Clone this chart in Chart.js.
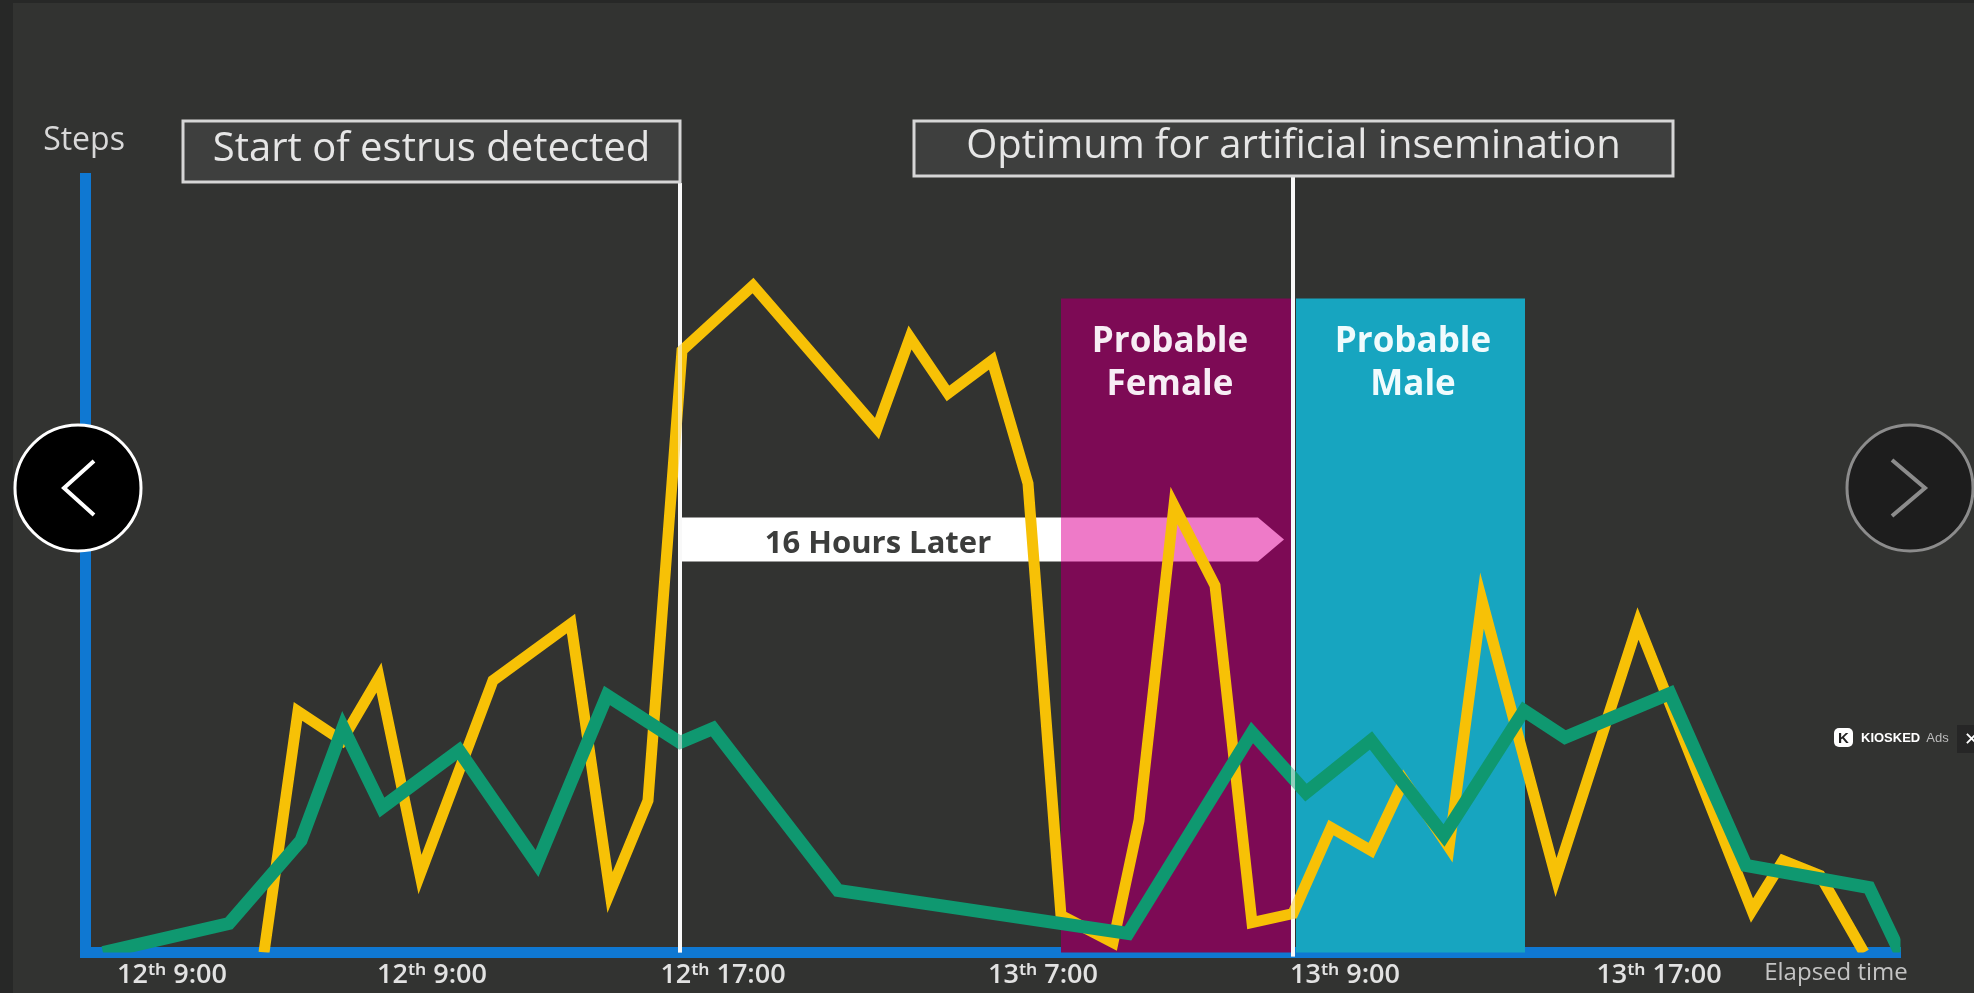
<!DOCTYPE html>
<html>
<head>
<meta charset="utf-8">
<title>Steps over elapsed time</title>
<script src="https://cdn.jsdelivr.net/npm/chart.js@4/dist/chart.umd.min.js"></script>
<style>
    html, body { margin: 0; padding: 0; background: #272827; overflow: hidden; }
    #fondo { position: absolute; left: 13px; top: 3px; right: 0; bottom: 0; background: #323331; }
    #grafico { position: absolute; left: 0; top: 0; }
    .nav { position: absolute; left: 0; top: 0; }
    #ads { position: absolute; left: 1861px; top: 730px; font: 700 13px "Liberation Sans", sans-serif; color: #fff; white-space: nowrap; }
    #ads span { font-weight: 400; color: #bbb; margin-left: 6px; }
    #adsLogo { position: absolute; left: 1834px; top: 728px; width: 19px; height: 19px; border-radius: 5px; background: #fff; color: #222; font: 700 15px/19px "Liberation Sans", sans-serif; text-align: center; }
    #adsCerrar { position: absolute; left: 1957px; top: 725px; width: 17px; height: 28px; background: #262626; color: #fff; font: 400 18px/28px "Liberation Sans", sans-serif; padding-left: 7px; box-sizing: border-box; }
</style>
</head>
<body>
<div id="fondo"></div>
<canvas id="grafico" width="1974" height="993"></canvas>
<svg class="nav" width="1974" height="993">
    <circle cx="78" cy="488" r="63" fill="#000" stroke="#fff" stroke-width="3"/>
    <polyline points="94,461 64,488 94,515" fill="none" stroke="#fff" stroke-width="4"/>
    <circle cx="1910" cy="488" r="63" fill="#1d1d1d" stroke="#8c8c8c" stroke-width="3"/>
    <polyline points="1892,460 1925,488 1892,516" fill="none" stroke="#8c8c8c" stroke-width="4"/>
</svg>
<div id="adsLogo">K</div>
<div id="ads">KIOSKED<span>Ads</span></div>
<div id="adsCerrar">✕</div>
<script>
const xTicks = [8.7, 34.7, 63.8, 95.8, 126, 157.4];
const xLabels = ['12ᵗʰ 9:00', '12ᵗʰ 9:00', '12ᵗʰ 17:00', '13ᵗʰ 7:00', '13ᵗʰ 9:00', '13ᵗʰ 17:00'];

const amarilloX = [17.9, 21.3, 25.7, 29.4, 33.5, 40.8, 48.6, 52.5, 56.3, 59.7, 66.8, 79.2, 82.5, 86.3, 90.7, 94.3, 97.6, 102.8, 105.4, 108.9, 113, 116.7, 120.8, 124.6, 128.6, 131.9, 136.4, 139.7, 147.1, 155.3, 166.7, 169.8, 173.5, 177.9];
const amarilloY = [0, 24.1, 21.2, 27.5, 7.8, 27.2, 32.9, 6, 15.2, 60.2, 66.7, 52.4, 61.5, 55.9, 59.2, 46.9, 3.7, 1, 13.2, 44.7, 36.7, 3, 3.9, 12.5, 10.2, 17.2, 10.5, 35.2, 7.5, 32.9, 4.2, 9.2, 7.7, 0];

const verdeX = [1.8, 14.4, 21.6, 25.8, 29.7, 37.4, 45.2, 52.2, 59.5, 62.8, 75.3, 104.3, 116.7, 122.1, 128.6, 135.9, 143.9, 148, 158.5, 166.1, 178.4, 181.5];
const verdeY = [0, 2.9, 11.2, 22.5, 14.5, 20.2, 8.9, 25.7, 21, 22.4, 6.2, 1.9, 22, 16, 21.2, 11.7, 24.2, 21.5, 25.9, 8.7, 6.5, 0];

// momentos marcados sobre el eje x
const inicioCelo = 59.5;
const optimo = 120.8;
const femeninoRango = [97.6, 120.6];
const masculinoRango = [121.1, 144];
const bandaTope = 65.4;

const fuente = '"Open Sans", "Noto Sans", sans-serif';

function puntos(xs, ys) {
    return xs.map((x, i) => ({ x: x, y: ys[i] }));
}

function texto(ctx, txt, x, y, font, color, align) {
    ctx.font = font;
    ctx.fillStyle = color;
    ctx.textAlign = align || 'center';
    ctx.textBaseline = 'middle';
    ctx.fillText(txt, x, y);
}

function caja(ctx, izq, arriba, der, abajo, txt, size, yTexto) {
    ctx.fillStyle = '#3e3f3e';
    ctx.strokeStyle = '#d6d6d6';
    ctx.lineWidth = 3;
    ctx.fillRect(izq, arriba, der - izq, abajo - arriba);
    ctx.strokeRect(izq, arriba, der - izq, abajo - arriba);
    texto(ctx, txt, (izq + der) / 2, yTexto, size + 'px ' + fuente, '#e6e6e6');
}

const bandas = {
    id: 'bandas',
    beforeDatasetsDraw(chart) {
        const { ctx, scales: { x, y } } = chart;
        ctx.save();
        ctx.fillStyle = '#7d0a55';
        ctx.fillRect(x.getPixelForValue(femeninoRango[0]), y.getPixelForValue(bandaTope),
            x.getPixelForValue(femeninoRango[1]) - x.getPixelForValue(femeninoRango[0]), y.getPixelForValue(0) - y.getPixelForValue(bandaTope));
        ctx.fillStyle = '#17a5c0';
        ctx.fillRect(x.getPixelForValue(masculinoRango[0]), y.getPixelForValue(bandaTope),
            x.getPixelForValue(masculinoRango[1]) - x.getPixelForValue(masculinoRango[0]), y.getPixelForValue(0) - y.getPixelForValue(bandaTope));

        // flecha de 16 horas
        const a0 = x.getPixelForValue(inicioCelo), a1 = x.getPixelForValue(femeninoRango[0]);
        const yA = y.getPixelForValue(43.5), yB = y.getPixelForValue(39.1);
        ctx.fillStyle = '#ffffff';
        ctx.fillRect(a0, yA, a1 - a0, yB - yA);
        ctx.fillStyle = '#ee7ac8';
        ctx.beginPath();
        ctx.moveTo(a1, yA);
        ctx.lineTo(a1 + 197, yA);
        ctx.lineTo(a1 + 223, (yA + yB) / 2);
        ctx.lineTo(a1 + 197, yB);
        ctx.lineTo(a1, yB);
        ctx.closePath();
        ctx.fill();
        texto(ctx, '16 Hours Later', 878, 544, 'bold 31px ' + fuente, '#3c3d3c');

        texto(ctx, 'Probable', 1170, 342, 'bold 35px ' + fuente, '#f7eef5');
        texto(ctx, 'Female', 1170, 385, 'bold 35px ' + fuente, '#f7eef5');
        texto(ctx, 'Probable', 1413, 342, 'bold 35px ' + fuente, '#f0fbfd');
        texto(ctx, 'Male', 1413, 385, 'bold 35px ' + fuente, '#f0fbfd');

        ctx.strokeStyle = '#f2f2f2';
        ctx.lineWidth = 4;
        ctx.beginPath();
        ctx.moveTo(x.getPixelForValue(inicioCelo), 183);
        ctx.lineTo(x.getPixelForValue(inicioCelo), y.getPixelForValue(0));
        ctx.moveTo(x.getPixelForValue(optimo), 177);
        ctx.lineTo(x.getPixelForValue(optimo), y.getPixelForValue(0) + 4);
        ctx.stroke();
        ctx.restore();
    },
    afterDraw(chart) {
        const { ctx, scales: { x, y } } = chart;
        ctx.save();
        // la linea blanca queda por encima de las series, algo transparente
        ctx.strokeStyle = 'rgba(255,255,255,0.55)';
        ctx.lineWidth = 4;
        ctx.beginPath();
        ctx.moveTo(x.getPixelForValue(inicioCelo), 183);
        ctx.lineTo(x.getPixelForValue(inicioCelo), y.getPixelForValue(0));
        ctx.moveTo(x.getPixelForValue(optimo), 177);
        ctx.lineTo(x.getPixelForValue(optimo), y.getPixelForValue(0) + 4);
        ctx.stroke();

        caja(ctx, 183, 121, 680, 182, 'Start of estrus detected', 40, 150);
        caja(ctx, 914, 121, 1673, 176, 'Optimum for artificial insemination', 40, 147);
        texto(ctx, 'Steps', 84, 141, '32px ' + fuente, '#d8d8d8');
        texto(ctx, 'Elapsed time', 1836, 973, '24px ' + fuente, '#c4c4c4');
        ctx.restore();
    }
};

new Chart(document.getElementById('grafico').getContext('2d'), {
    type: 'line',
    data: {
        datasets: [
            {
                label: 'Green',
                data: puntos(verdeX, verdeY),
                borderColor: '#0f9870',
                borderWidth: 13,
                borderJoinStyle: 'miter',
                pointRadius: 0,
                tension: 0
            },
            {
                label: 'Yellow',
                data: puntos(amarilloX, amarilloY),
                borderColor: '#f7c106',
                borderWidth: 11,
                borderJoinStyle: 'miter',
                pointRadius: 0,
                tension: 0
            }
        ]
    },
    options: {
        responsive: false,
        animation: false,
        layout: { padding: { left: 85, top: 178.5, right: 73.5, bottom: 0 } },
        plugins: { legend: { display: false }, tooltip: { enabled: false } },
        scales: {
            x: {
                type: 'linear',
                min: 0,
                max: 181.55,
                z: 1,
                grid: { display: false, drawTicks: false },
                border: { display: true, color: '#0f78d2', width: 11 },
                afterBuildTicks: axis => { axis.ticks = xTicks.map(v => ({ value: v })); },
                afterFit: axis => { axis.height = 40.5; },
                ticks: {
                    autoSkip: false,
                    maxRotation: 0,
                    padding: 7,
                    color: '#e2e2e2',
                    font: { family: fuente, size: 27, weight: '600' },
                    callback: (v) => xLabels[xTicks.indexOf(v)]
                }
            },
            y: {
                min: 0,
                max: 77.4,
                z: 1,
                grid: { display: false, drawTicks: false },
                border: { display: true, color: '#0f78d2', width: 11 },
                ticks: { display: false },
                afterFit: axis => { axis.width = 0; }
            }
        }
    },
    plugins: [bandas]
});
</script>
</body>
</html>
